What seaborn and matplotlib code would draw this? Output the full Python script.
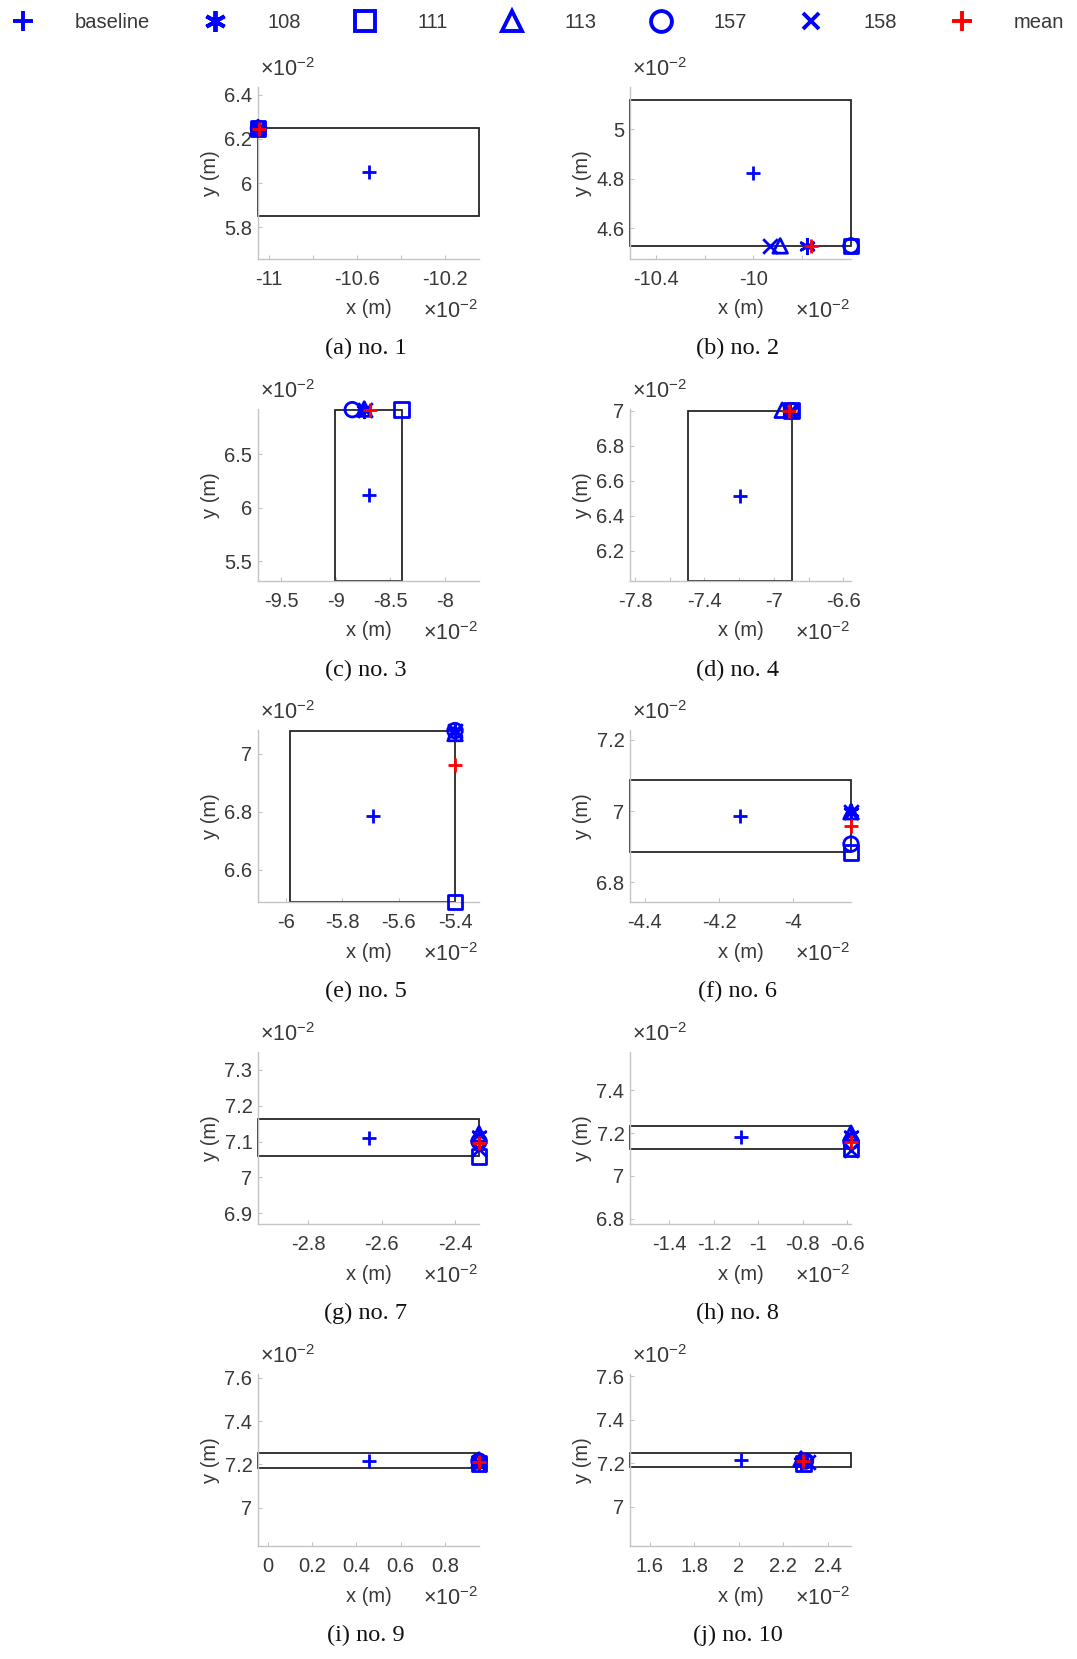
"""
Localisation results for ten test cases: baseline position, the five test
positions (108, 111, 113, 157, 158), their mean and the bounding rectangle.
All coordinates are given in units of 1e-2 m.
"""

import matplotlib
matplotlib.use("Agg")
import matplotlib.pyplot as plt
from matplotlib.patches import Rectangle
from matplotlib.lines import Line2D
import pandas as pd
import seaborn as sns

# -------------------------------
# 1. DATA (x1e-2 m)
# -------------------------------
captions = ["(a) no. 1", "(b) no. 2", "(c) no. 3", "(d) no. 4", "(e) no. 5",
            "(f) no. 6", "(g) no. 7", "(h) no. 8", "(i) no. 9", "(j) no. 10"]

baseline_x = [-10.547, -10.0, -8.70, -7.197, -5.69, -4.142, -2.6355, -1.08, 0.4545, 2.0075]
baseline_y = [6.05, 4.821, 6.115, 6.513, 6.785, 6.986, 7.111, 7.18, 7.2175, 7.2165]

p108_x = [-11.05, -9.781, -8.74, -6.91, -5.40, -3.844, -2.335, -0.584, 0.954, 2.28]
p108_y = [6.248, 4.528, 6.914, 7.000, 7.075, 6.998, 7.117, 7.190, 7.210, 7.205]
p111_x = [-11.05, -9.599, -8.396, -6.898, -5.40, -3.844, -2.335, -0.584, 0.954, 2.29]
p111_y = [6.248, 4.528, 6.914, 7.000, 6.489, 6.884, 7.059, 7.128, 7.205, 7.200]
p113_x = [-11.05, -9.890, -8.74, -6.952, -5.40, -3.844, -2.335, -0.584, 0.954, 2.28]
p113_y = [6.252, 4.528, 6.920, 7.003, 7.070, 6.998, 7.122, 7.200, 7.220, 7.220]
p157_x = [-11.048, -9.599, -8.85, -6.898, -5.40, -3.844, -2.335, -0.584, 0.954, 2.30]
p157_y = [6.248, 4.528, 6.914, 7.000, 7.080, 6.907, 7.100, 7.160, 7.215, 7.210]
p158_x = [-11.05, -9.932, -8.73, -6.905, -5.40, -3.844, -2.335, -0.584, 0.954, 2.31]
p158_y = [6.246, 4.528, 6.914, 7.000, 7.078, 6.998, 7.080, 7.120, 7.200, 7.205]

mean_x = [-11.045, -9.762, -8.69, -6.913, -5.40, -3.844, -2.335, -0.584, 0.954, 2.29]
mean_y = [6.245, 4.528, 6.914, 7.000, 6.960, 6.957, 7.095, 7.160, 7.210, 7.210]

rect_left = [-11.05, -10.507, -9.01, -7.496, -5.985, -4.44, -2.936, -1.577, -0.045, 1.51]
rect_right = [-10.045, -9.599, -8.396, -6.898, -5.40, -3.844, -2.335, -0.584, 0.954, 2.505]
rect_bottom = [5.853, 4.528, 5.316, 6.026, 6.489, 6.884, 7.059, 7.128, 7.181, 7.185]
rect_top = [6.248, 5.117, 6.914, 7.000, 7.080, 7.088, 7.163, 7.235, 7.254, 7.248]

xlims = [(-11.05, -10.045), (-10.507, -9.599), (-9.715, -7.687), (-7.829, -6.556),
         (-6.098, -5.315), (-4.44, -3.844), (-2.936, -2.335), (-1.577, -0.584),
         (-0.045, 0.954), (1.51, 2.505)]
ylims = [(5.657, 6.435), (4.475, 5.17), (5.316, 6.92), (6.026, 7.01),
         (6.489, 7.082), (6.744, 7.228), (6.870, 7.35), (6.775, 7.58),
         (6.823, 7.617), (6.82, 7.61)]

xticks = [[-11, -10.8, -10.6, -10.4, -10.2], [-10.4, -10.2, -10, -9.8],
          [-9.5, -9, -8.5, -8], [-7.8, -7.6, -7.4, -7.2, -7, -6.8, -6.6],
          [-6, -5.8, -5.6, -5.4], [-4.4, -4.2, -4], [-2.8, -2.6, -2.4],
          [-1.4, -1.2, -1, -0.8, -0.6], [0, 0.2, 0.4, 0.6, 0.8],
          [1.6, 1.8, 2, 2.2, 2.4]]
xtick_labels = [["-11", "", "-10.6", "", "-10.2"], ["-10.4", "", "-10", ""],
                ["-9.5", "-9", "-8.5", "-8"], ["-7.8", "", "-7.4", "", "-7", "", "-6.6"],
                ["-6", "-5.8", "-5.6", "-5.4"], ["-4.4", "-4.2", "-4"],
                ["-2.8", "-2.6", "-2.4"], ["-1.4", "-1.2", "-1", "-0.8", "-0.6"],
                ["0", "0.2", "0.4", "0.6", "0.8"], ["1.6", "1.8", "2", "2.2", "2.4"]]
yticks = [[5.8, 6, 6.2, 6.4], [4.6, 4.8, 5], [5.5, 6, 6.5], [6.2, 6.4, 6.6, 6.8, 7],
          [6.6, 6.8, 7], [6.8, 7, 7.2], [6.9, 7, 7.1, 7.2, 7.3], [6.8, 7, 7.2, 7.4],
          [7, 7.2, 7.4, 7.6], [7, 7.2, 7.4, 7.6]]
ytick_labels = [["5.8", "6", "6.2", "6.4"], ["4.6", "4.8", "5"], ["5.5", "6", "6.5"],
                ["6.2", "6.4", "6.6", "6.8", "7"], ["6.6", "6.8", "7"],
                ["6.8", "7", "7.2"], ["6.9", "7", "7.1", "7.2", "7.3"],
                ["6.8", "7", "7.2", "7.4"], ["7", "7.2", "7.4", "7.6"],
                ["7", "7.2", "7.4", "7.6"]]

series_names = ["baseline", "108", "111", "113", "157", "158", "mean"]

# -------------------------------
# 2. STYLE
# -------------------------------
sns.set_theme(style="white")
plt.rcParams["font.family"] = ["Liberation Sans", "DejaVu Sans"]
plt.rcParams["axes.unicode_minus"] = False
plt.rcParams["mathtext.fontset"] = "custom"
plt.rcParams["mathtext.rm"] = "Liberation Sans"
plt.rcParams["mathtext.it"] = "Liberation Sans:italic"

BLUE = "#0000ff"
RED = "#ff0000"
TXT = "#383838"
SPINE = "#c4c4c4"
FS = 14.5

# marker, colour, open (needs facecolor none)
styles = {
    "baseline": ("+", BLUE, False),
    "108": ((6, 2, 0), BLUE, False),
    "111": ("s", BLUE, True),
    "113": ("^", BLUE, True),
    "157": ("o", BLUE, True),
    "158": ("x", BLUE, False),
    "mean": ("+", RED, False),
}

W, H = 1077, 1659
fig = plt.figure(figsize=(W / 100, H / 100), dpi=100)

col_left = [258, 630]
row_bottom = [259, 581, 902, 1224, 1546]
AX_W, AX_H = 221, 172


def fig_text(x, y, s, **kw):
    fig.text(x / W, 1 - y / H, s, **kw)


# -------------------------------
# 3. PANELS
# -------------------------------
for i in range(10):
    r, c = divmod(i, 2)
    left, bottom = col_left[c], row_bottom[r]
    top = bottom - AX_H
    ax = fig.add_axes([left / W, 1 - bottom / H, AX_W / W, AX_H / H])

    ax.add_patch(Rectangle((rect_left[i], rect_bottom[i]),
                           rect_right[i] - rect_left[i], rect_top[i] - rect_bottom[i],
                           fill=False, edgecolor="#262626", linewidth=1.3, zorder=2,
                           clip_on=False))

    df = pd.DataFrame({
        "series": series_names,
        "x": [baseline_x[i], p108_x[i], p111_x[i], p113_x[i], p157_x[i], p158_x[i], mean_x[i]],
        "y": [baseline_y[i], p108_y[i], p111_y[i], p113_y[i], p157_y[i], p158_y[i], mean_y[i]],
    })
    for name in series_names:
        marker, color, is_open = styles[name]
        sub = df[df["series"] == name]
        kw = dict(marker=marker, s=110, linewidth=2.0, zorder=3, legend=False,
                  clip_on=False, ax=ax)
        if is_open:
            sns.scatterplot(data=sub, x="x", y="y", facecolor="none", edgecolor=color, **kw)
        else:
            sns.scatterplot(data=sub, x="x", y="y", color=color, **kw)

    ax.set_xlim(*xlims[i])
    ax.set_ylim(*ylims[i])
    ax.set_xticks(xticks[i])
    ax.set_xticklabels(xtick_labels[i])
    ax.set_yticks(yticks[i])
    ax.set_yticklabels(ytick_labels[i])
    ax.set_xlabel("")
    ax.set_ylabel("")
    ax.tick_params(axis="x", direction="in", length=3, width=0.8, color=SPINE,
                   labelsize=FS, labelcolor=TXT, pad=8, bottom=True)
    ax.tick_params(axis="y", direction="in", length=3, width=0.8, color=SPINE,
                   labelsize=FS, labelcolor=TXT, pad=4, left=True)
    sns.despine(ax=ax)
    for side in ["left", "bottom"]:
        ax.spines[side].set_color(SPINE)
        ax.spines[side].set_linewidth(1.0)
    ax.patch.set_alpha(0)

    cx = left + AX_W / 2
    fig_text(left + 2, top - 17, r"$\times10^{-2}$", fontsize=FS + 1, color=TXT,
             ha="left", va="center")
    fig_text(left + AX_W - 1, bottom + 53, r"$\times10^{-2}$", fontsize=FS + 1, color=TXT,
             ha="right", va="center")
    fig_text(cx, bottom + 50, "x (m)", fontsize=FS, color=TXT, ha="center", va="center")
    fig_text(left - 47, top + AX_H / 2, "y (m)", fontsize=FS, color=TXT,
             ha="center", va="center", rotation=90)
    fig_text(cx - 3, bottom + 89, captions[i], fontsize=17.5, color="#111111",
             ha="center", va="center", family=["Liberation Serif", "DejaVu Serif"])

# -------------------------------
# 4. LEGEND
# -------------------------------
handles = []
for name in series_names:
    marker, color, is_open = styles[name]
    size = 12 if name == "158" else 15
    handles.append(Line2D([], [], linestyle="none", marker=marker, markersize=size,
                          markeredgewidth=2.8, color=color,
                          markerfacecolor="none" if is_open else color))
leg = fig.legend(handles, series_names, loc="center", ncol=7,
                 bbox_to_anchor=(0.5, 1 - 23 / H), frameon=False, fontsize=FS,
                 handlelength=1.0, handletextpad=2.1, columnspacing=2.7,
                 borderpad=0, borderaxespad=0)
for t in leg.get_texts():
    t.set_color(TXT)

fig.savefig("out.png", dpi=100)
plt.close(fig)
